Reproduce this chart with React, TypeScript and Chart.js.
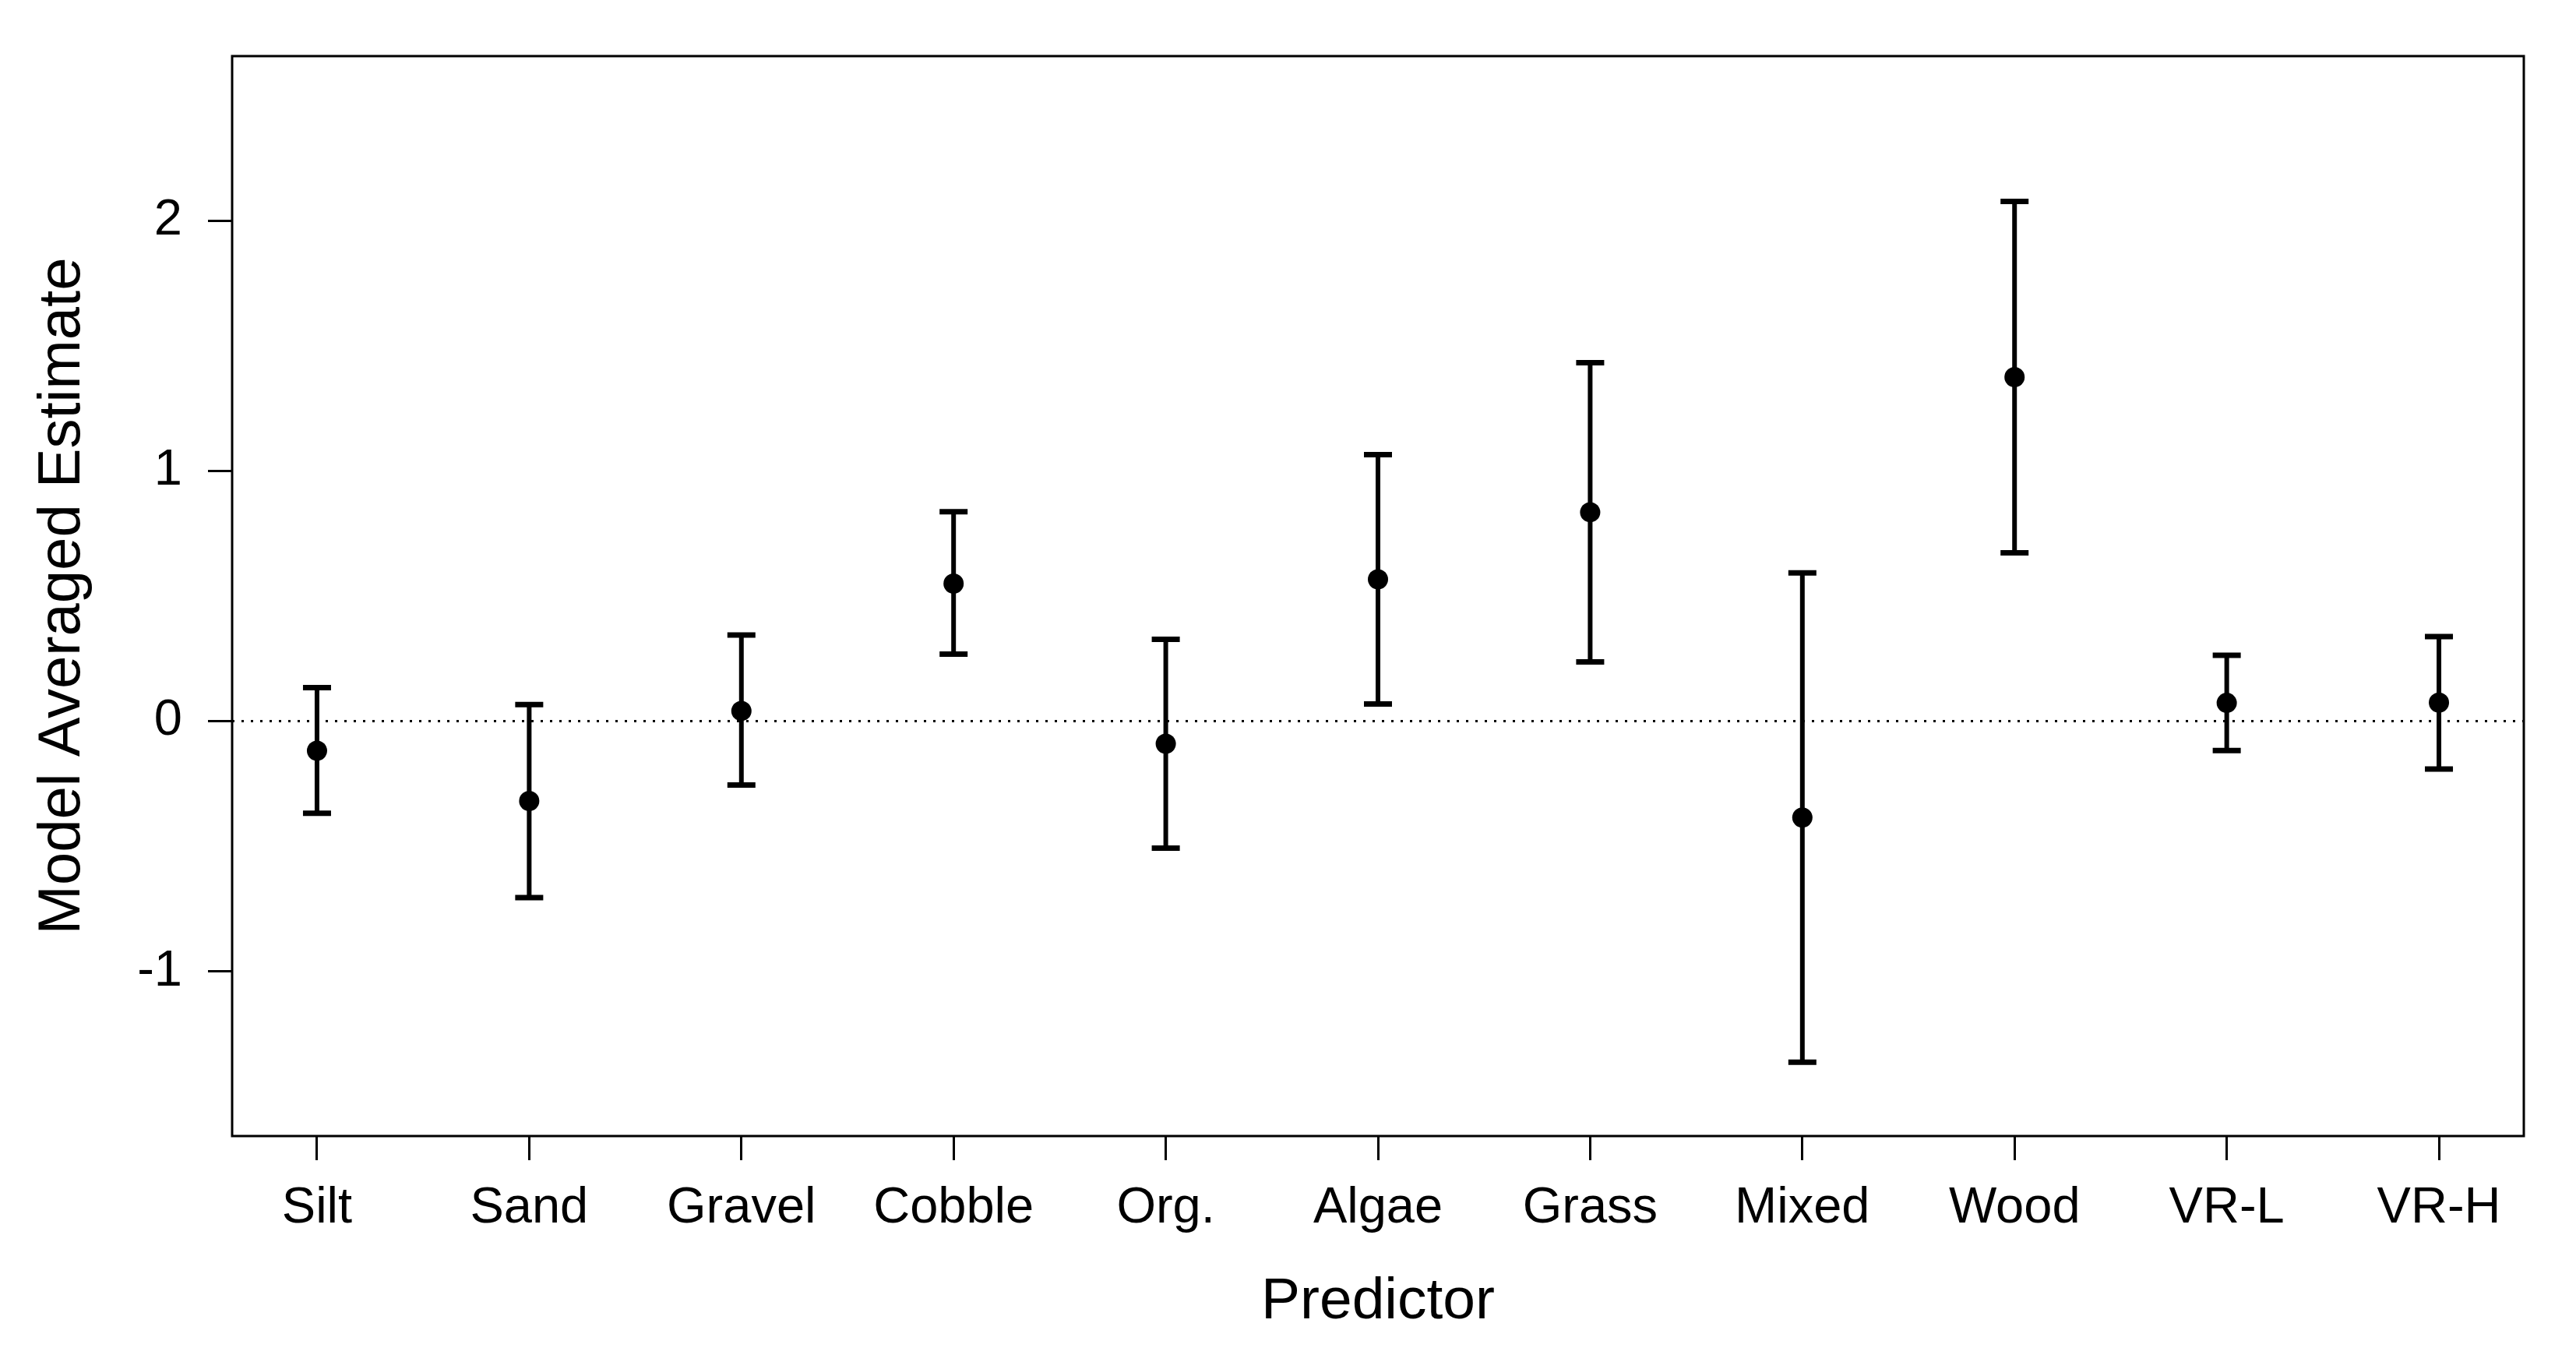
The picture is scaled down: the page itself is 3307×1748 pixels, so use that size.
import React, { useEffect, useRef } from "react";
import { Chart, registerables } from "chart.js";

Chart.register(...registerables);

const predictors = ["Silt", "Sand", "Gravel", "Cobble", "Org.", "Algae", "Grass", "Mixed", "Wood", "VR-L", "VR-H"];
const estimates = [-0.118, -0.319, 0.041, 0.55, -0.09, 0.567, 0.835, -0.385, 1.375, 0.073, 0.074];
const lowerCI = [-0.368, -0.705, -0.255, 0.268, -0.507, 0.069, 0.237, -1.363, 0.673, -0.117, -0.191];
const upperCI = [0.134, 0.066, 0.344, 0.837, 0.327, 1.065, 1.433, 0.593, 2.077, 0.263, 0.338];
const yTicks = [-1, 0, 1, 2];

const FONT = "'Liberation Sans', Arial, sans-serif";

const errorBarPlugin = {
  id: "errorBars",
  beforeDatasetsDraw(chart: any) {
    const { ctx, chartArea, scales } = chart;
    const xs = scales.x;
    const ys = scales.y;
    ctx.save();
    // zero reference line
    const y0 = ys.getPixelForValue(0);
    ctx.beginPath();
    ctx.setLineDash([3, 9]);
    ctx.lineWidth = 3;
    ctx.strokeStyle = "#000";
    ctx.moveTo(chartArea.left, y0);
    ctx.lineTo(chartArea.right, y0);
    ctx.stroke();
    ctx.setLineDash([]);
    // error bars
    ctx.lineCap = "butt";
    const capHalf = 18;
    for (let i = 0; i < predictors.length; i++) {
      const x = xs.getPixelForValue(i + 1);
      const yl = ys.getPixelForValue(lowerCI[i]);
      const yu = ys.getPixelForValue(upperCI[i]);
      ctx.beginPath();
      ctx.lineWidth = 6;
      ctx.moveTo(x, yl);
      ctx.lineTo(x, yu);
      ctx.stroke();
      ctx.beginPath();
      ctx.lineWidth = 7;
      ctx.moveTo(x - capHalf, yl);
      ctx.lineTo(x + capHalf, yl);
      ctx.moveTo(x - capHalf, yu);
      ctx.lineTo(x + capHalf, yu);
      ctx.stroke();
    }
    ctx.restore();
  },
  afterDraw(chart: any) {
    const { ctx, chartArea } = chart;
    ctx.save();
    ctx.lineWidth = 3;
    ctx.strokeStyle = "#000";
    ctx.strokeRect(chartArea.left, chartArea.top, chartArea.right - chartArea.left, chartArea.bottom - chartArea.top);
    ctx.restore();
  },
};

const whiteBg = {
  id: "whiteBg",
  beforeDraw(chart: any) {
    const { ctx, width, height } = chart;
    ctx.save();
    ctx.fillStyle = "#fff";
    ctx.fillRect(0, 0, width, height);
    ctx.restore();
  },
};

export default function App() {
  const ref = useRef<HTMLCanvasElement | null>(null);

  useEffect(() => {
    if (!ref.current) return;
    const chart = new Chart(ref.current, {
      type: "scatter",
      data: {
        datasets: [
          {
            data: estimates.map((v, i) => ({ x: i + 1, y: v })),
            backgroundColor: "#000",
            borderColor: "#000",
            borderWidth: 0,
            pointRadius: 13,
            pointHoverRadius: 13,
          },
        ],
      },
      options: {
        animation: false,
        responsive: false,
        devicePixelRatio: 1,
        events: [],
        layout: { padding: { left: 0, top: 72, right: 67, bottom: 0 } },
        plugins: { legend: { display: false }, tooltip: { enabled: false } },
        scales: {
          x: {
            type: "linear",
            min: 0.6,
            max: 11.4,
            afterBuildTicks: (scale: any) => {
              scale.ticks = predictors.map((_, i) => ({ value: i + 1 }));
            },
            afterFit: (scale: any) => {
              scale.height = 290;
            },
            ticks: {
              autoSkip: false,
              maxRotation: 0,
              minRotation: 0,
              padding: 23,
              color: "#000",
              font: { family: FONT, size: 65 },
              callback: (v: any) => predictors[Math.round(Number(v)) - 1] ?? "",
            },
            grid: {
              display: true,
              drawOnChartArea: false,
              drawTicks: true,
              tickLength: 31,
              tickWidth: 3,
              color: "#000",
              lineWidth: 3,
            },
            border: { display: false },
            title: {
              display: true,
              text: "Predictor",
              color: "#000",
              font: { family: FONT, size: 75 },
              padding: { top: 0, bottom: 32 },
            },
          },
          y: {
            type: "linear",
            min: -1.658,
            max: 2.658,
            afterBuildTicks: (scale: any) => {
              scale.ticks = yTicks.map((v) => ({ value: v }));
            },
            afterFit: (scale: any) => {
              scale.width = 298;
            },
            ticks: {
              padding: 33,
              color: "#000",
              font: { family: FONT, size: 65 },
              callback: (v: any) => String(v),
            },
            grid: {
              display: true,
              drawOnChartArea: false,
              drawTicks: true,
              tickLength: 31,
              tickWidth: 3,
              color: "#000",
              lineWidth: 3,
            },
            border: { display: false },
            title: {
              display: true,
              text: "Model Averaged Estimate",
              color: "#000",
              font: { family: FONT, size: 76 },
              padding: { top: 35, bottom: 0 },
            },
          },
        },
      },
      plugins: [whiteBg, errorBarPlugin],
    } as any);
    return () => chart.destroy();
  }, []);

  return (
    <div style={{ position: "fixed", left: 0, top: 0, width: 3307, height: 1748, background: "#fff" }}>
      <canvas ref={ref} width={3307} height={1748} style={{ width: 3307, height: 1748, display: "block" }} />
    </div>
  );
}
